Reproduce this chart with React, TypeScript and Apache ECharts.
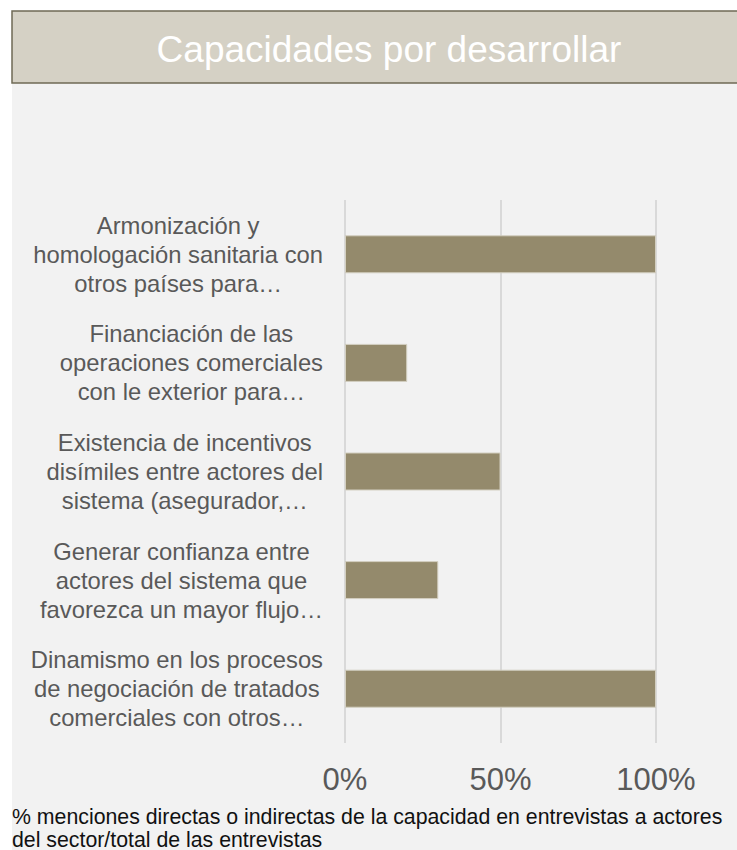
import React, { useEffect, useRef } from "react";
import * as echarts from "echarts";

const titleText = "Capacidades por desarrollar";
const categories: string[][] = [
  ["Armonización y", "homologación sanitaria con", "otros países para…"],
  ["Financiación de las", "operaciones comerciales", "con le exterior para…"],
  ["Existencia de incentivos", "disímiles entre actores del", "sistema (asegurador,…"],
  ["Generar confianza entre", "actores del sistema que", "favorezca un mayor flujo…"],
  ["Dinamismo en los procesos", "de negociación de tratados", "comerciales con otros…"],
];
const values: number[] = [1, 0.2, 0.5, 0.3, 1];
const xTicks: number[] = [0, 0.5, 1];
const footerLines: string[] = [
  "% menciones directas o indirectas de la capacidad en entrevistas a actores",
  "del sector/total de las entrevistas",
];

const FONT = "'Liberation Sans', Arial, sans-serif";

export default function App() {
  const ref = useRef<HTMLDivElement>(null);
  useEffect(() => {
    if (!ref.current) return;
    const chart = echarts.init(ref.current, null, { renderer: "svg" });
    const labels = categories.map((c) => c.join("\n"));
    chart.setOption({
      animation: false,
      backgroundColor: "#ffffff",
      textStyle: { fontFamily: FONT },
      graphic: [
        {
          type: "rect",
          z: -10,
          shape: { x: 12, y: 83, width: 737, height: 780 },
          style: { fill: "#f2f2f2" },
          silent: true,
        },
        {
          type: "rect",
          z: -9,
          shape: { x: 12, y: 11, width: 740, height: 72 },
          style: { fill: "#d5d1c5", stroke: "#6f6a55", lineWidth: 1.5 },
          silent: true,
        },
        {
          type: "text",
          left: 12,
          top: 805,
          style: {
            text: footerLines.join("\n"),
            fontSize: 21.3,
            lineHeight: 23,
            fill: "#111111",
            fontFamily: FONT,
          },
        },
      ],
      title: {
        text: titleText,
        left: 384,
        top: 26,
        textAlign: "center",
        textStyle: {
          fontSize: 37,
          color: "#ffffff",
          fontWeight: "normal",
          fontFamily: FONT,
        },
      },
      grid: { left: 345, right: 81, top: 200, bottom: 107, containLabel: false },
      xAxis: {
        type: "value",
        min: 0,
        max: 1,
        interval: 0.5,
        axisLine: { show: false },
        axisTick: { show: false },
        splitLine: { show: true, lineStyle: { color: "#d9d9d9", width: 2 } },
        axisLabel: {
          margin: 21,
          fontSize: 31,
          color: "#595959",
          fontFamily: FONT,
          formatter: (v: number) => (xTicks.includes(v) ? Math.round(v * 100) + "%" : ""),
        },
      },
      yAxis: {
        type: "category",
        inverse: true,
        data: labels,
        axisLine: { show: false },
        axisTick: { show: false },
        axisLabel: {
          margin: 22,
          color: "#595959",
          fontSize: 23.8,
          lineHeight: 29,
          fontFamily: FONT,
          formatter: (v: string) =>
            v
              .split("\n")
              .map((l) => "{c|" + l + "}")
              .join("\n"),
          rich: {
            c: {
              align: "center",
              color: "#595959",
              fontSize: 23.8,
              lineHeight: 29,
              fontFamily: FONT,
            },
          },
        },
      },
      series: [
        {
          type: "bar",
          data: values,
          barCategoryGap: "65%",
          itemStyle: { color: "#948a6c", borderColor: "#d3cfc1", borderWidth: 1 },
        },
      ],
    });
    return () => chart.dispose();
  }, []);
  return (
    <div style={{ position: "absolute", left: 0, top: 0, width: 737, height: 850 }}>
      <div ref={ref} style={{ width: 737, height: 850 }} />
    </div>
  );
}
